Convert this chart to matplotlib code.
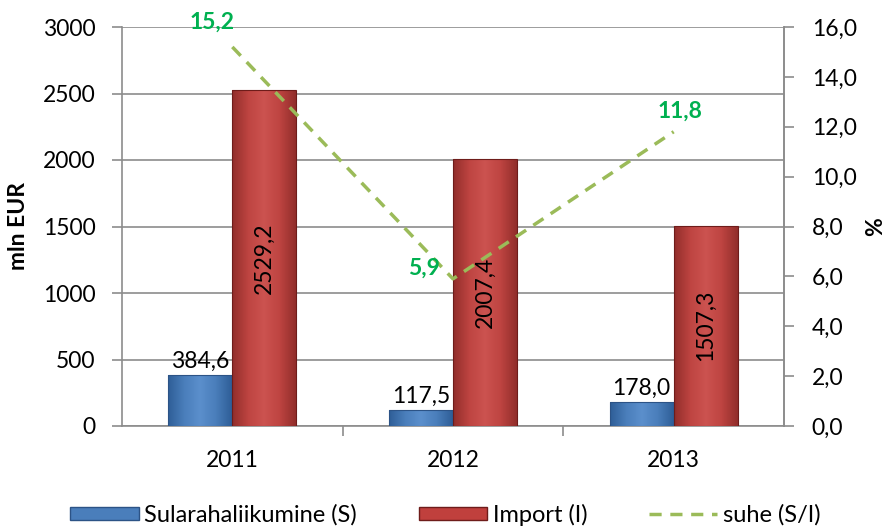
import numpy as np
import matplotlib.pyplot as plt
from matplotlib.patches import Patch
from matplotlib.lines import Line2D
from matplotlib.colors import LinearSegmentedColormap

plt.rcParams['font.family'] = ['Lato', 'DejaVu Sans']

years = ['2011', '2012', '2013']
sularaha = [384.6, 117.5, 178.0]
imports = [2529.2, 2007.4, 1507.3]
suhe = [15.2, 5.9, 11.8]

blue = '#4A7EBB'
red = '#C0403D'
green_line = '#9BBB59'
green_txt = '#00B050'
grid_col = '#8C8C8C'
fs = 16.5

def fmt(v):
    return ('%.1f' % v).replace('.', ',')

def shade(ax, bars, dark, mid, light):
    # fake the excel bevel with a horizontal gradient clipped to each bar
    cmap = LinearSegmentedColormap.from_list('b', [dark, mid, light, mid, dark])
    grad = np.linspace(0, 1, 64).reshape(1, -1)
    for b in bars:
        x0, y0 = b.get_x(), b.get_y()
        im = ax.imshow(grad, cmap=cmap, aspect='auto', zorder=3,
                       extent=[x0, x0 + b.get_width(), y0, y0 + b.get_height()])
        im.set_clip_path(b)

fig = plt.figure(figsize=(8.91, 5.30), dpi=100)
ax = fig.add_axes([122/891, 1-426/530, (784-122)/891, (426-27)/530])
ax2 = ax.twinx()

x = np.arange(len(years))
w = 0.29
b1 = ax.bar(x - w/2, sularaha, w, color=blue, edgecolor='#2C5386', linewidth=0.8, zorder=3)
b2 = ax.bar(x + w/2, imports, w, color=red, edgecolor='#6E1C1A', linewidth=0.8, zorder=3)
shade(ax, b1, '#2F5E98', '#4A7EBB', '#5B8FCC')
shade(ax, b2, '#922E2B', '#BE4441', '#CC5350')
for b in list(b1) + list(b2):
    b.set_zorder(3.5)
    b.set_facecolor('none')

for xi, v in zip(x, sularaha):
    ax.text(xi - w/2, v + 25, fmt(v), ha='center', va='bottom', fontsize=fs, zorder=5)
for xi, v in zip(x, imports):
    ax.text(xi + w/2, v/2, fmt(v), ha='center', va='center', rotation=90, fontsize=fs, zorder=5)

ax.set_xlim(-0.5, 2.5)
ax.set_ylim(0, 3000)
ax.set_yticks(np.arange(0, 3001, 500))
ax.yaxis.grid(True, color=grid_col, linewidth=1.2)
ax.set_axisbelow(True)
ax.set_xticks(x)
ax.set_xticklabels(years)
ax.set_xticks([0.5, 1.5], minor=True)
ax.tick_params(axis='x', which='major', length=0, labelsize=fs, pad=17)
ax.tick_params(axis='x', which='minor', length=7, color=grid_col, width=1.2)
ax.tick_params(axis='y', length=7, color=grid_col, width=1.2, labelsize=fs, pad=12)
ax.set_ylabel('mln EUR', fontsize=fs, fontweight='bold', labelpad=10)
ax.spines['top'].set_visible(False)
for s in ['left', 'bottom', 'right']:
    ax.spines[s].set_color(grid_col)
    ax.spines[s].set_linewidth(1.2)

ax2.plot(x, suhe, color=green_line, linestyle=(0, (3.5, 2.5)), linewidth=2.5, zorder=4)
ax2.set_ylim(0, 16)
ax2.set_yticks(np.arange(0, 16.1, 2))
ax2.set_yticklabels([fmt(v) for v in np.arange(0, 16.1, 2)])
ax2.tick_params(axis='y', length=7, color=grid_col, width=1.2, labelsize=fs, pad=13)
ax2.set_ylabel('%', fontsize=fs, fontweight='bold', labelpad=6)
for s in ['top', 'left', 'bottom']:
    ax2.spines[s].set_visible(False)
ax2.spines['right'].set_color(grid_col)
ax2.spines['right'].set_linewidth(1.2)

offsets = [(-0.09, 1.0), (-0.13, 0.44), (0.03, 0.83)]
for xi, v, (dx, dy) in zip(x, suhe, offsets):
    ax2.text(xi + dx, v + dy, fmt(v), ha='center', va='center', fontsize=fs,
             fontweight='bold', color=green_txt, zorder=6)

handles = [Patch(facecolor=blue, edgecolor='#2C5386'),
           Patch(facecolor=red, edgecolor='#6E1C1A'),
           Line2D([0], [0], color=green_line, linestyle=(0, (3.5, 2.5)), linewidth=2.5)]
labels = ['Sularahaliikumine (S)', 'Import (I)', 'suhe (S/I)']
fig.legend(handles, labels, loc='lower center', bbox_to_anchor=(0.5, -0.032), ncol=3,
           frameon=False, fontsize=17, handlelength=2.9, handleheight=0.5,
           columnspacing=2.6, handletextpad=0.25)

fig.savefig('out.png', dpi=100)
